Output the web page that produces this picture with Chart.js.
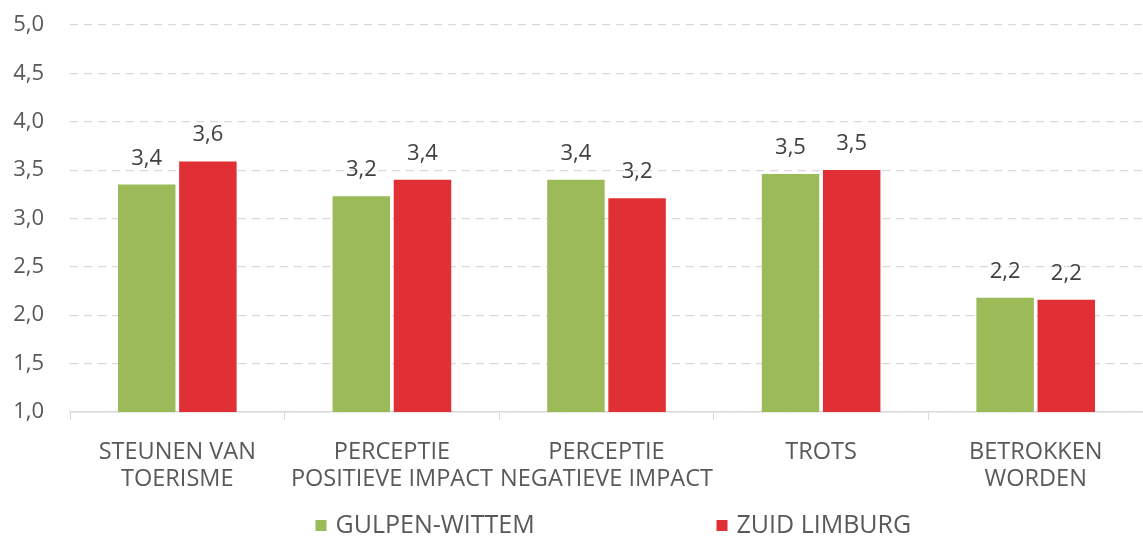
<!DOCTYPE html>
<html>
<head>
<meta charset="utf-8">
<script src="https://cdn.jsdelivr.net/npm/chart.js@4"></script>
<style>
  html, body { margin: 0; padding: 0; background: #fff; }
  #wrap { width: 1143px; height: 536px; }
</style>
</head>
<body>
<div id="wrap"><canvas id="chart"></canvas></div>
<script>
const categories = [
    ['STEUNEN VAN', 'TOERISME'],
    ['PERCEPTIE', 'POSITIEVE IMPACT'],
    ['PERCEPTIE', 'NEGATIEVE IMPACT'],
    'TROTS',
    ['BETROKKEN', 'WORDEN']
];
const gulpenWittem = [3.35, 3.23, 3.40, 3.46, 2.18];
const zuidLimburg = [3.59, 3.40, 3.21, 3.50, 2.16];
const yTicks = [1.0, 1.5, 2.0, 2.5, 3.0, 3.5, 4.0, 4.5, 5.0];

const fmt = v => v.toFixed(1).replace('.', ',');
const textColor = '#595959';
const fontFamily = "'Open Sans', 'Liberation Sans', sans-serif";

// value labels above the bars
const valueLabels = {
    id: 'valueLabels',
    afterDatasetsDraw(chart) {
        const ctx = chart.ctx;
        ctx.save();
        ctx.font = '22px ' + fontFamily;
        ctx.fillStyle = '#404040';
        ctx.textAlign = 'center';
        ctx.textBaseline = 'alphabetic';
        chart.data.datasets.forEach((ds, i) => {
            chart.getDatasetMeta(i).data.forEach((bar, j) => {
                ctx.fillText(fmt(ds.data[j]), bar.x, bar.y - 20);
            });
        });
        ctx.restore();
    }
};

// wide-spaced legend under the axis labels, like the original
const bottomLegend = {
    id: 'bottomLegend',
    afterDraw(chart) {
        const ctx = chart.ctx;
        const cx = chart.width / 2;
        const offsets = [-256, 145];
        const y = chart.height - 11;
        ctx.save();
        ctx.font = '25px ' + fontFamily;
        ctx.textBaseline = 'middle';
        ctx.textAlign = 'left';
        chart.data.datasets.forEach((ds, i) => {
            const x = cx + offsets[i];
            ctx.fillStyle = ds.backgroundColor;
            ctx.fillRect(x, y - 5, 11, 11);
            ctx.fillStyle = textColor;
            ctx.fillText(ds.label, x + 20, y + 1);
        });
        ctx.restore();
    }
};

document.addEventListener('DOMContentLoaded', function () {
    const ctx = document.getElementById('chart').getContext('2d');
    new Chart(ctx, {
        type: 'bar',
        data: {
            labels: categories,
            datasets: [
                {
                    label: 'GULPEN-WITTEM',
                    data: gulpenWittem,
                    backgroundColor: '#9BBB59',
                    categoryPercentage: 0.57,
                    barPercentage: 0.94
                },
                {
                    label: 'ZUID LIMBURG',
                    data: zuidLimburg,
                    backgroundColor: '#E03035',
                    categoryPercentage: 0.57,
                    barPercentage: 0.94
                }
            ]
        },
        options: {
            responsive: true,
            maintainAspectRatio: false,
            animation: false,
            layout: { padding: { top: 0, right: 0, left: 0, bottom: 24 } },
            plugins: {
                legend: { display: false },
                tooltip: { enabled: false }
            },
            scales: {
                x: {
                    grid: {
                        display: true,
                        drawOnChartArea: false,
                        tickLength: 8,
                        color: '#D9D9D9',
                        offset: true
                    },
                    border: { color: '#D9D9D9', width: 1.5 },
                    ticks: {
                        color: textColor,
                        font: { family: fontFamily, size: 23.5, lineHeight: 1.15 },
                        maxRotation: 0,
                        autoSkip: false,
                        padding: 19
                    }
                },
                y: {
                    min: 1,
                    max: 5,
                    afterBuildTicks(axis) {
                        axis.ticks = yTicks.map(v => ({ value: v }));
                    },
                    afterFit(axis) {
                        axis.width = 70;
                        axis.paddingTop = 25;
                        axis.paddingBottom = 0;
                    },
                    grid: {
                        color: '#D9D9D9',
                        lineWidth: 1.2,
                        drawTicks: false
                    },
                    border: { display: false, dash: [8, 6] },
                    ticks: {
                        color: textColor,
                        font: { family: fontFamily, size: 22 },
                        padding: 26,
                        callback: v => fmt(v)
                    }
                }
            }
        },
        plugins: [valueLabels, bottomLegend]
    });
});
</script>
</body>
</html>
